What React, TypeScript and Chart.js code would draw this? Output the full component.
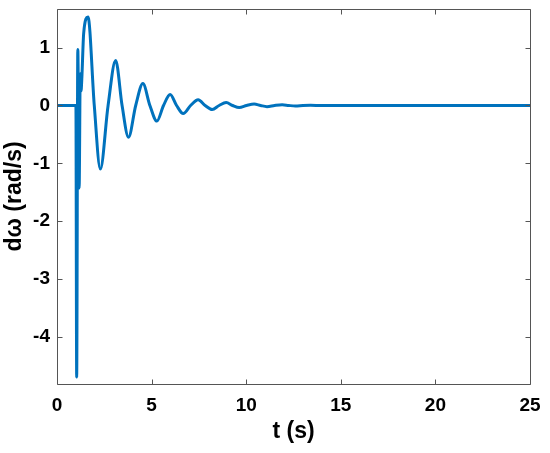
import React, { useEffect, useRef } from "react";
import { Chart, registerables } from "chart.js";

Chart.register(...registerables);

// time (s)
const tData = [0, 1.0, 1.04, 1.1, 1.17, 1.23, 1.27, 1.31, 1.41, 1.64, 1.97, 2.29, 2.70, 3.10, 3.44, 3.78, 4.16, 4.54, 4.91, 5.28, 5.63, 5.98, 6.32, 6.67, 7.06, 7.46, 7.83, 8.2, 8.57, 8.94, 9.28, 9.63, 10.02, 10.42, 10.76, 11.1, 11.5, 11.9, 12.25, 12.6, 13.0, 13.4, 14.0, 25.0];
// dω (rad/s)
const dwData = [0, 0, -4.7, 0.97, -1.43, 0.55, 0.25, 0.45, 1.25, 1.53, 0, -1.1, 0, 0.78, 0, -0.55, 0, 0.38, 0, -0.27, 0, 0.19, 0, -0.14, 0, 0.1, 0, -0.07, 0, 0.05, 0, -0.035, 0, 0.025, 0, -0.02, 0, 0.012, 0, -0.008, 0, 0.004, 0, 0];

const xTicks = [0, 5, 10, 15, 20, 25];
const yTicks = [-4, -3, -2, -1, 0, 1];
const xTitle = "t (s)";
const yTitle = "dω (rad/s)";

const FONT = "'Liberation Sans', Arial, sans-serif";
const AXIS_COLOR = "#555555";

const boxPlugin = {
  id: "matlabBox",
  afterDraw(chart: any) {
    const { ctx, chartArea } = chart;
    const { left, right, top, bottom } = chartArea;
    const xs = chart.scales.x;
    const ys = chart.scales.y;
    const L = Math.round(left) + 0.5;
    const R = Math.round(right) + 0.5;
    const T = Math.round(top) + 0.5;
    const B = Math.round(bottom) + 0.5;
    ctx.save();
    ctx.strokeStyle = AXIS_COLOR;
    ctx.lineWidth = 1;
    ctx.beginPath();
    ctx.rect(L, T, R - L, B - T);
    const tl = 5;
    xTicks.forEach((v) => {
      const px = Math.round(xs.getPixelForValue(v)) + 0.5;
      ctx.moveTo(px, B);
      ctx.lineTo(px, B - tl);
      ctx.moveTo(px, T);
      ctx.lineTo(px, T + tl);
    });
    yTicks.forEach((v) => {
      const py = Math.round(ys.getPixelForValue(v)) + 0.5;
      ctx.moveTo(L, py);
      ctx.lineTo(L + tl, py);
      ctx.moveTo(R, py);
      ctx.lineTo(R - tl, py);
    });
    ctx.stroke();

    ctx.fillStyle = "#000";
    ctx.font = `bold 23px ${FONT}`;
    ctx.textAlign = "center";
    ctx.textBaseline = "middle";
    ctx.fillText(xTitle, (left + right) / 2, 432);
    ctx.translate(15, (top + bottom) / 2);
    ctx.rotate(-Math.PI / 2);
    ctx.fillText(yTitle, 0, 0);
    ctx.restore();
  },
};

export default function App() {
  const ref = useRef<HTMLCanvasElement | null>(null);
  useEffect(() => {
    if (!ref.current) return;
    const points = tData.map((t, i) => ({ x: t, y: dwData[i] }));
    const chart = new Chart(ref.current, {
      type: "line",
      data: {
        datasets: [
          {
            data: points,
            borderColor: "#0072BD",
            borderWidth: 3,
            pointRadius: 0,
            cubicInterpolationMode: "monotone",
            tension: 0.4,
            fill: false,
          },
        ],
      },
      options: {
        animation: false,
        responsive: false,
        maintainAspectRatio: false,
        events: [],
        layout: { padding: { top: 9, right: 20, left: 0, bottom: 0 } },
        plugins: { legend: { display: false }, tooltip: { enabled: false } },
        scales: {
          x: {
            type: "linear",
            min: 0,
            max: 25,
            afterBuildTicks: (s: any) => {
              s.ticks = xTicks.map((v) => ({ value: v }));
            },
            afterFit: (s: any) => {
              s.height = 69;
              s.paddingLeft = 0;
              s.paddingRight = 0;
            },
            grid: { display: false, drawTicks: false },
            border: { display: false },
            ticks: {
              color: "#000",
              padding: 10,
              maxRotation: 0,
              font: { family: FONT, size: 19, weight: "bold" },
            },
          },
          y: {
            type: "linear",
            min: -4.82,
            max: 1.67,
            afterBuildTicks: (s: any) => {
              s.ticks = yTicks.map((v) => ({ value: v }));
            },
            afterFit: (s: any) => {
              s.width = 57;
              s.paddingTop = 0;
              s.paddingBottom = 0;
            },
            grid: { display: false, drawTicks: false },
            border: { display: false },
            ticks: {
              color: "#000",
              padding: 7,
              font: { family: FONT, size: 19, weight: "bold" },
            },
          },
        },
      },
      plugins: [boxPlugin],
    });
    return () => chart.destroy();
  }, []);
  return (
    <div style={{ position: "fixed", left: 0, top: 0, width: 550, height: 453, background: "#fff" }}>
      <canvas ref={ref} width={550} height={453} style={{ width: 550, height: 453 }} />
    </div>
  );
}
